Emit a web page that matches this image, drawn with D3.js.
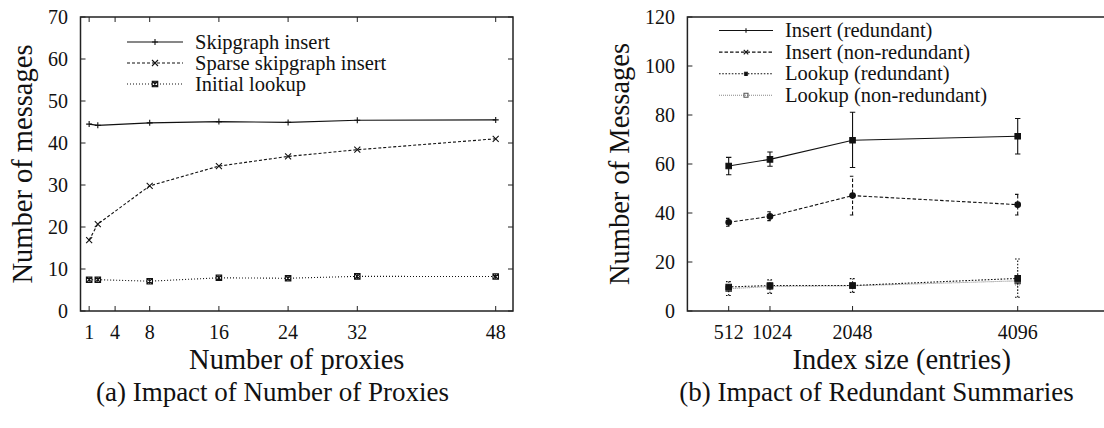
<!DOCTYPE html>
<html>
<head>
<meta charset="utf-8">
<script src="https://cdn.jsdelivr.net/npm/d3@7"></script>
<style>
  html, body { margin: 0; padding: 0; background: #fff; }
  svg { display: block; }
</style>
</head>
<body>
<svg id="fig" width="1104" height="428" font-family="'Liberation Serif', 'Times New Roman', Times, 'DejaVu Serif', serif"></svg>
<script>
// ---- (a) number of proxies ----
const proxyCounts = [1, 2, 8, 16, 24, 32, 48];
const skipgraphInsert = [44.5, 44.2, 44.8, 45.1, 44.9, 45.4, 45.5];
const sparseInsert = [16.9, 20.7, 29.8, 34.5, 36.8, 38.4, 41.0];
const initialLookup = [7.45, 7.45, 7.1, 7.9, 7.8, 8.25, 8.2];
const proxyTicks = [1, 4, 8, 16, 24, 32, 48];
const messageTicksA = [0, 10, 20, 30, 40, 50, 60, 70];

// ---- (b) redundant summaries ----
const indexSizes = [512, 1024, 2048, 4096];
const insertRed = [59.2, 61.9, 69.7, 71.3];
const insertRedLo = [55.6, 59.1, 58.6, 64.1];
const insertRedHi = [62.7, 64.9, 81.1, 78.6];
const insertNonRed = [36.2, 38.6, 47.1, 43.4];
const insertNonRedLo = [34.6, 36.9, 39.2, 39.2];
const insertNonRedHi = [37.8, 40.5, 55.0, 47.6];
const lookupRed = [9.8, 10.4, 10.4, 13.3];
const lookupRedLo = [6.3, 7.2, 7.6, 5.6];
const lookupRedHi = [12.0, 12.7, 13.2, 21.2];
const lookupNonRed = [9.1, 10.0, 10.3, 12.3];
const lookupNonRedLo = [8.2, 9.0, 9.3, 10.6];
const lookupNonRedHi = [10.1, 11.0, 11.3, 14.0];
const indexTicks = [512, 1024, 2048, 4096];
const messageTicksB = [0, 20, 40, 60, 80, 100, 120];

const svg = d3.select("#fig");
const TICK_FONT = 20, LEGEND_FONT = 20.5, LABEL_FONT = 28.5, CAPTION_FONT = 27;
const INK = "#111";

// point glyphs in the gnuplot style
function glyph(g, type, x, y, s, color) {
  const h = s / 2;
  const p = g.append("path").attr("stroke", color).attr("stroke-width", 1.1).attr("fill", "none");
  if (type === "plus") p.attr("d", `M${x-h},${y}H${x+h}M${x},${y-h}V${y+h}`);
  else if (type === "cross") p.attr("d", `M${x-h},${y-h}L${x+h},${y+h}M${x-h},${y+h}L${x+h},${y-h}`);
  else if (type === "star") p.attr("d", `M${x-h},${y}H${x+h}M${x},${y-h}V${y+h}M${x-h*0.8},${y-h*0.8}L${x+h*0.8},${y+h*0.8}M${x-h*0.8},${y+h*0.8}L${x+h*0.8},${y-h*0.8}`);
  else if (type === "boxstar") p.attr("d", `M${x-h},${y-h}H${x+h}V${y+h}H${x-h}Z M${x-h},${y-h}L${x+h},${y+h}M${x-h},${y+h}L${x+h},${y-h}M${x},${y-h}V${y+h}`);
  else if (type === "box") p.attr("d", `M${x-h},${y-h}H${x+h}V${y+h}H${x-h}Z`);
  else if (type === "fillbox") p.attr("d", `M${x-h},${y-h}H${x+h}V${y+h}H${x-h}Z`).attr("fill", color);
  else if (type === "dot") p.attr("d", d3.symbol(d3.symbolCircle, s * s * 0.8)()).attr("transform", `translate(${x},${y})`).attr("fill", color);
}

function label(g, x, y, size, str, anchor) {
  return g.append("text").attr("x", x).attr("y", y).attr("font-size", size)
    .attr("text-anchor", anchor || "middle").attr("fill", INK).text(str);
}

// ================= Panel (a) =================
{
  const L = 80.5, R = 513, T = 17, B = 311;
  const x = d3.scaleLinear().domain([0, 50]).range([L, R]);
  const y = d3.scaleLinear().domain([0, 70]).range([B, T]);
  const g = svg.append("g");

  // inward ticks on all four sides
  const tk = 5;
  proxyTicks.forEach(v => {
    g.append("line").attr("x1", x(v)).attr("x2", x(v)).attr("y1", B).attr("y2", B - tk).attr("stroke", "#222");
    g.append("line").attr("x1", x(v)).attr("x2", x(v)).attr("y1", T).attr("y2", T + tk).attr("stroke", "#222");
    label(g, x(v), 339, TICK_FONT, v);
  });
  messageTicksA.forEach(v => {
    g.append("line").attr("x1", L).attr("x2", L + tk).attr("y1", y(v)).attr("y2", y(v)).attr("stroke", "#222");
    g.append("line").attr("x1", R).attr("x2", R - tk).attr("y1", y(v)).attr("y2", y(v)).attr("stroke", "#222");
    label(g, 68, y(v), TICK_FONT, v, "end").attr("dy", "0.35em");
  });

  const series = [
    { name: "Skipgraph insert", vals: skipgraphInsert, dash: null, mark: "plus", size: 6 },
    { name: "Sparse skipgraph insert", vals: sparseInsert, dash: "3,2", mark: "cross", size: 6 },
    { name: "Initial lookup", vals: initialLookup, dash: "1,2", mark: "boxstar", size: 5.5 }
  ];
  const line = d3.line().x(d => x(d[0])).y(d => y(d[1]));
  series.forEach((s, i) => {
    const pts = proxyCounts.map((c, j) => [c, s.vals[j]]);
    g.append("path").attr("d", line(pts)).attr("fill", "none").attr("stroke", INK).attr("stroke-width", 1.1)
      .attr("stroke-dasharray", s.dash);
    pts.forEach(p => glyph(g, s.mark, x(p[0]), y(p[1]), s.size, INK));
    // legend
    const ly = 42 + i * 21;
    g.append("line").attr("x1", 127).attr("x2", 183).attr("y1", ly).attr("y2", ly).attr("stroke", INK)
      .attr("stroke-width", 1.1).attr("stroke-dasharray", s.dash);
    glyph(g, s.mark, 155, ly, s.size, INK);
    label(g, 195, ly, LEGEND_FONT, s.name, "start").attr("dy", "0.33em");
  });

  g.append("rect").attr("x", L).attr("y", T).attr("width", R - L).attr("height", B - T)
    .attr("fill", "none").attr("stroke", "#222").attr("stroke-width", 1.5);

  g.append("text").attr("transform", "translate(32,164) rotate(-90)").attr("text-anchor", "middle")
    .attr("font-size", LABEL_FONT).attr("fill", INK).text("Number of messages");
  label(g, (L + R) / 2, 369, LABEL_FONT, "Number of proxies");
  label(g, 272.5, 401, CAPTION_FONT, "(a) Impact of Number of Proxies");
}

// ================= Panel (b) =================
{
  const L = 687.4, R = 1116, T = 17, B = 311;
  const x = d3.scaleLinear().domain([0, 5315]).range([L, R]);
  const y = d3.scaleLinear().domain([0, 120]).range([B, T]);
  const g = svg.append("g");
  const tk = 5;

  indexTicks.forEach(v => {
    g.append("line").attr("x1", x(v)).attr("x2", x(v)).attr("y1", B).attr("y2", B - tk).attr("stroke", "#222");
    label(g, x(v) + (v === 1024 ? 2 : 0), 339, TICK_FONT, v);
  });
  messageTicksB.forEach(v => {
    g.append("line").attr("x1", L).attr("x2", L + tk).attr("y1", y(v)).attr("y2", y(v)).attr("stroke", "#222");
    label(g, 675, y(v), TICK_FONT, v, "end").attr("dy", "0.35em");
  });

  const series = [
    { name: "Insert (redundant)", vals: insertRed, lo: insertRedLo, hi: insertRedHi, dash: null, color: INK, mark: "fillbox", legendMark: "plus" },
    { name: "Insert (non-redundant)", vals: insertNonRed, lo: insertNonRedLo, hi: insertNonRedHi, dash: "3.5,2", color: INK, mark: "dot", legendMark: "cross" },
    { name: "Lookup (redundant)", vals: lookupRed, lo: lookupRedLo, hi: lookupRedHi, dash: "1.6,1.6", color: INK, mark: "fillbox", legendMark: "star" },
    { name: "Lookup (non-redundant)", vals: lookupNonRed, lo: lookupNonRedLo, hi: lookupNonRedHi, dash: "1,1", color: "#888", mark: "fillbox", legendMark: "box" }
  ];
  const line = d3.line().x(d => x(d[0])).y(d => y(d[1]));
  // draw back to front so the black series sit on top
  series.slice().reverse().forEach(s => {
    const pts = indexSizes.map((c, j) => [c, s.vals[j]]);
    g.append("path").attr("d", line(pts)).attr("fill", "none").attr("stroke", s.color).attr("stroke-width", 1.1)
      .attr("stroke-dasharray", s.dash);
    indexSizes.forEach((c, j) => {
      const cx = x(c), y0 = y(s.lo[j]), y1 = y(s.hi[j]);
      g.append("path").attr("d", `M${cx},${y0}V${y1}M${cx-2.7},${y0}H${cx+2.7}M${cx-2.7},${y1}H${cx+2.7}`)
        .attr("fill", "none").attr("stroke", s.color).attr("stroke-width", 1.1).attr("stroke-dasharray", s.dash);
      glyph(g, s.mark, cx, y(s.vals[j]), 5.5, s.color === "#888" ? "#555" : INK);
    });
  });
  series.forEach((s, i) => {
    const ly = 30.5 + i * 21.6;
    g.append("line").attr("x1", 719).attr("x2", 773).attr("y1", ly).attr("y2", ly).attr("stroke", s.color)
      .attr("stroke-width", 1.1).attr("stroke-dasharray", s.dash);
    glyph(g, s.legendMark, 746, ly, s.legendMark === "box" ? 4 : 4.5, s.color === "#888" ? "#555" : INK);
    label(g, 785, ly, LEGEND_FONT, s.name, "start").attr("dy", "0.33em");
  });

  g.append("path").attr("d", `M${R},${T}H${L}V${B}H${R}`).attr("fill", "none").attr("stroke", "#222").attr("stroke-width", 1.5);

  g.append("text").attr("transform", "translate(629,164) rotate(-90)").attr("text-anchor", "middle")
    .attr("font-size", LABEL_FONT).attr("fill", INK).text("Number of Messages");
  label(g, 901.7, 369, LABEL_FONT, "Index size (entries)");
  label(g, 876.5, 401, CAPTION_FONT, "(b) Impact of Redundant Summaries");
}
</script>
</body>
</html>
